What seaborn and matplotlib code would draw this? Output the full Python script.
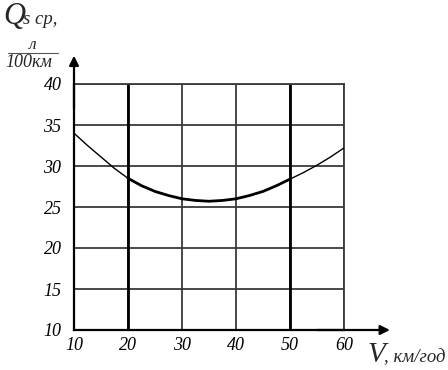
import matplotlib
matplotlib.use("Agg")
import matplotlib.pyplot as plt
import seaborn as sns
import pandas as pd

# Data
speed = [10, 12.5, 15, 17.5, 20, 22.5, 25, 27.5, 30, 32.5, 35, 37.5, 40,
         42.5, 45, 47.5, 50, 52.5, 55, 57.5, 60]
consumption = [34.0, 32.5, 31.1, 29.7, 28.5, 27.6, 26.9, 26.4, 26.0, 25.8, 25.7,
               25.8, 26.0, 26.4, 26.9, 27.6, 28.4, 29.2, 30.1, 31.1, 32.2]
x_ticks = [10, 20, 30, 40, 50, 60]
y_ticks = [10, 15, 20, 25, 30, 35, 40]
bold_x = [20, 50]
main_range = (20, 50)

sns.set_style("white")
plt.rcParams['font.family'] = ['Liberation Serif', 'DejaVu Serif']

df = pd.DataFrame({"V": speed, "Q": consumption})
main = df[(df.V >= main_range[0]) & (df.V <= main_range[1])]

W, H = 448, 370
fig = plt.figure(figsize=(W / 100, H / 100), dpi=100)
ax = fig.add_axes([74 / W, 1 - 330 / H, 270 / W, 246 / H])

ax.set_xlim(10, 60)
ax.set_ylim(10, 40)
ax.set_xticks(x_ticks)
ax.set_yticks(y_ticks)
ax.grid(True, color='#3a3a3a', lw=1.3)
for xv in bold_x:
    ax.axvline(xv, color='black', lw=2.0, zorder=2)

sns.lineplot(data=df, x="V", y="Q", ax=ax, color='black', lw=1.0, zorder=3)
sns.lineplot(data=main, x="V", y="Q", ax=ax, color='black', lw=2.0, zorder=4)

for s in ['top', 'right']:
    ax.spines[s].set_color('#3a3a3a')
    ax.spines[s].set_linewidth(1.3)
for s in ['left', 'bottom']:
    ax.spines[s].set_color('black')
    ax.spines[s].set_linewidth(1.6)

ax.tick_params(length=0, labelsize=13, colors='black')
ax.tick_params(axis='y', pad=9)
ax.tick_params(axis='x', pad=5)
for lab in ax.get_xticklabels() + ax.get_yticklabels():
    lab.set_fontstyle('italic')
ax.set_xlabel('')
ax.set_ylabel('')

# arrows
ax.annotate('', xy=(0, 1.115), xycoords='axes fraction', xytext=(0, 0.9),
            arrowprops=dict(arrowstyle='-|>', color='black', lw=1.6,
                            mutation_scale=14, shrinkA=0, shrinkB=0),
            annotation_clip=False)
ax.annotate('', xy=(1.17, 0), xycoords='axes fraction', xytext=(0.9, 0),
            arrowprops=dict(arrowstyle='-|>', color='black', lw=1.6,
                            mutation_scale=14, shrinkA=0, shrinkB=0),
            annotation_clip=False)

def ft(x, y, s, size, **kw):
    fig.text(x / W, 1 - y / H, s, fontsize=size, style='italic',
             va='baseline', **kw)

# y-axis label
ft(3, 24, 'Q', 22)
ft(23, 24, 's ср,', 13.5)
ft(33, 49, 'л', 12.5, ha='center')
fig.add_artist(plt.Line2D([8 / W, 58 / W], [1 - 53 / H, 1 - 53 / H],
                          color='#555555', lw=0.8))
ft(5, 67, '100км', 13)

# x-axis label
ft(367, 362, 'V', 21)
ft(384, 362, ', км/год', 13.5)

fig.savefig('out.png', dpi=100)
